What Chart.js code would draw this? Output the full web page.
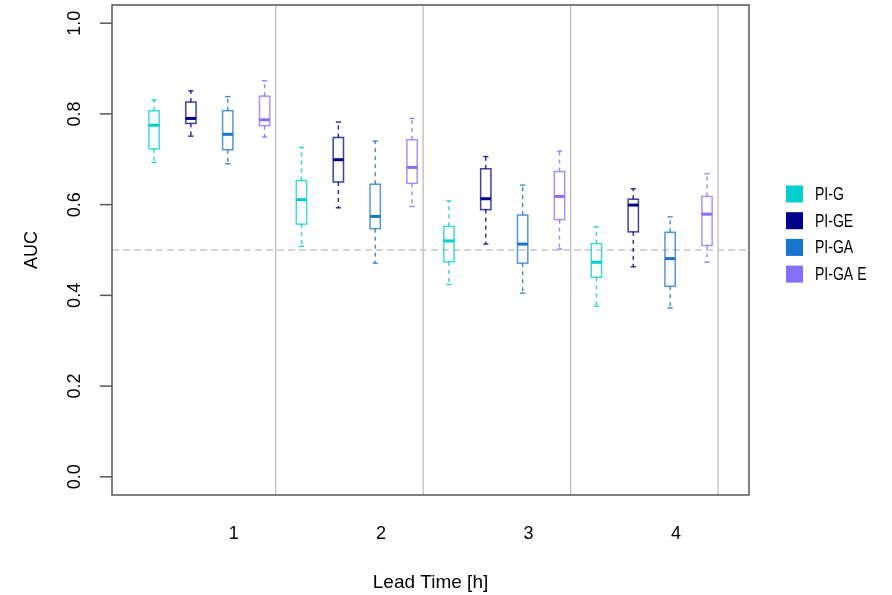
<!DOCTYPE html>
<html>
<head>
<meta charset="utf-8">
<title>AUC by lead time</title>
<script src="https://cdn.jsdelivr.net/npm/chart.js@4.4.1/dist/chart.umd.min.js"></script>
<style>
  html, body { margin: 0; padding: 0; background: #ffffff; }
  #wrap { width: 892px; height: 595px; }
</style>
</head>
<body>
<div id="wrap"><canvas id="aucChart" width="892" height="595"></canvas></div>
<script>
// ============================================
// DATA
// each row: [lower whisker, Q1, median, Q3, upper whisker], one row per lead time
// ============================================

const leadTimes = ['1', '2', '3', '4'];
const seriesLabels = ['PI-G', 'PI-GE', 'PI-GA', 'PI-GA E'];
const seriesColors = ['#00CED1', '#00008B', '#1874CD', '#8470FF'];

const statsPIG = [
  [0.693, 0.723, 0.775, 0.807, 0.831],
  [0.508, 0.557, 0.611, 0.653, 0.726],
  [0.424, 0.474, 0.520, 0.552, 0.608],
  [0.376, 0.440, 0.473, 0.514, 0.551]
];
const statsPIGE = [
  [0.751, 0.779, 0.790, 0.826, 0.851],
  [0.593, 0.650, 0.699, 0.748, 0.782],
  [0.513, 0.589, 0.613, 0.679, 0.706],
  [0.463, 0.540, 0.599, 0.612, 0.635]
];
const statsPIGA = [
  [0.690, 0.721, 0.755, 0.807, 0.838],
  [0.471, 0.547, 0.574, 0.645, 0.740],
  [0.405, 0.471, 0.513, 0.577, 0.643],
  [0.372, 0.420, 0.481, 0.539, 0.573]
];
const statsPIGAE = [
  [0.749, 0.774, 0.787, 0.839, 0.873],
  [0.596, 0.647, 0.682, 0.743, 0.790],
  [0.502, 0.567, 0.618, 0.673, 0.718],
  [0.473, 0.510, 0.579, 0.618, 0.668]
];

const yTicks = [0.0, 0.2, 0.4, 0.6, 0.8, 1.0];
const groupSeparators = [4.3, 8.3, 12.3, 16.3];   // grey vertical lines
const leadLabelAt = [3.16, 7.16, 11.16, 15.16];   // where "1".."4" sit
const refLine = 0.5;                              // chance level

// ============================================
// LOOK
// ============================================

const FONT = '"Liberation Sans", Arial, Helvetica, sans-serif';
const BOX_HALF = 0.14;   // half box width in x units
const CAP_HALF = 0.07;   // half whisker cap width

function withAlpha(hex, a) {
  const n = parseInt(hex.slice(1), 16);
  return `rgba(${(n >> 16) & 255}, ${(n >> 8) & 255}, ${n & 255}, ${a})`;
}

function line(ctx, x1, y1, x2, y2) {
  ctx.beginPath();
  ctx.moveTo(x1, y1);
  ctx.lineTo(x2, y2);
  ctx.stroke();
}

// ============================================
// R-STYLE BOXPLOT PLUGIN
// ============================================

const rBoxplot = {
  id: 'rBoxplot',

  beforeDatasetsDraw(chart) {
    const { ctx, chartArea: a, scales: { x, y } } = chart;
    ctx.save();

    // group separators
    ctx.strokeStyle = '#bebebe';
    ctx.lineWidth = 1.3;
    groupSeparators.forEach(v => {
      const px = x.getPixelForValue(v);
      line(ctx, px, a.top, px, a.bottom);
    });

    // dashed 0.5 line
    ctx.strokeStyle = '#c8c8c8';
    ctx.setLineDash([7, 4]);
    const py = y.getPixelForValue(refLine);
    line(ctx, a.left, py, a.right, py);
    ctx.restore();
  },

  afterDatasetsDraw(chart) {
    const { ctx, chartArea: a, scales: { x, y } } = chart;
    const unit = x.getPixelForValue(1) - x.getPixelForValue(0);

    chart.data.datasets.forEach((ds, di) => {
      const meta = chart.getDatasetMeta(di);
      meta.data.forEach((pt, i) => {
        const [lo, q1, med, q3, hi] = ds.stats[i];
        const cx = pt.x;
        const bw = BOX_HALF * unit;
        const cw = CAP_HALF * unit;
        const yLo = y.getPixelForValue(lo);
        const yQ1 = y.getPixelForValue(q1);
        const yMed = y.getPixelForValue(med);
        const yQ3 = y.getPixelForValue(q3);
        const yHi = y.getPixelForValue(hi);

        ctx.save();
        // whiskers
        ctx.strokeStyle = withAlpha(ds.color, 0.85);
        ctx.lineWidth = 1.4;
        ctx.setLineDash([4, 4]);
        line(ctx, cx, yQ3, cx, yHi);
        line(ctx, cx, yQ1, cx, yLo);
        ctx.setLineDash([]);
        // caps
        line(ctx, cx - cw, yHi, cx + cw, yHi);
        line(ctx, cx - cw, yLo, cx + cw, yLo);
        // box
        ctx.strokeStyle = withAlpha(ds.color, 0.75);
        ctx.lineWidth = 1.5;
        ctx.strokeRect(cx - bw, yQ3, 2 * bw, yQ1 - yQ3);
        // median
        ctx.strokeStyle = ds.color;
        ctx.lineWidth = 3;
        line(ctx, cx - bw, yMed, cx + bw, yMed);
        ctx.restore();
      });
    });

    ctx.save();
    // frame
    ctx.strokeStyle = '#555555';
    ctx.lineWidth = 1.5;
    ctx.strokeRect(a.left, a.top, a.right - a.left, a.bottom - a.top);

    // y ticks and labels
    ctx.fillStyle = '#000000';
    ctx.font = `18px ${FONT}`;
    ctx.textAlign = 'center';
    ctx.textBaseline = 'middle';
    yTicks.forEach(v => {
      const py = y.getPixelForValue(v);
      line(ctx, a.left - 12, py, a.left, py);
      ctx.save();
      ctx.translate(75, py);
      ctx.rotate(-Math.PI / 2);
      ctx.fillText(v.toFixed(1), 0, 0);
      ctx.restore();
    });

    // x labels
    leadTimes.forEach((lab, i) => {
      ctx.fillText(lab, x.getPixelForValue(leadLabelAt[i]), 534);
    });

    // axis titles
    ctx.font = `19px ${FONT}`;
    ctx.fillText('Lead Time [h]', (a.left + a.right) / 2, 583);
    ctx.save();
    ctx.translate(32, (a.top + a.bottom) / 2);
    ctx.rotate(-Math.PI / 2);
    ctx.font = `18px ${FONT}`;
    ctx.fillText('AUC', 0, 0);
    ctx.restore();

    // legend
    ctx.font = `18px ${FONT}`;
    ctx.textAlign = 'left';
    seriesLabels.forEach((lab, i) => {
      const cy = 194 + i * 26.7;
      ctx.fillStyle = seriesColors[i];
      ctx.fillRect(786, cy - 8.5, 17, 17);
      ctx.fillStyle = '#000000';
      ctx.save();
      ctx.translate(815, cy + 1);
      ctx.scale(0.78, 1);
      ctx.fillText(lab, 0, 0);
      ctx.restore();
    });
    ctx.restore();
  }
};

// ============================================
// CHART SETUP
// ============================================

const allStats = [statsPIG, statsPIGE, statsPIGA, statsPIGAE];

function buildDatasets() {
  return seriesLabels.map((label, s) => ({
    label: label,
    color: seriesColors[s],
    stats: allStats[s],
    // box s of lead time i sits at position 4*i + s + 1
    data: allStats[s].map((row, i) => ({ x: i * seriesLabels.length + s + 1, y: row[2] })),
    pointRadius: 0,
    showLine: false
  }));
}

const ctx = document.getElementById('aucChart').getContext('2d');
const aucChart = new Chart(ctx, {
  type: 'scatter',
  data: { datasets: buildDatasets() },
  options: {
    responsive: false,
    animation: false,
    devicePixelRatio: 1,
    layout: { padding: { left: 112, right: 143, top: 5, bottom: 100 } },
    plugins: {
      legend: { display: false },
      tooltip: { enabled: false }
    },
    scales: {
      x: { type: 'linear', min: -0.14, max: 17.14, display: false },
      y: { type: 'linear', min: -0.04, max: 1.04, display: false }
    }
  },
  plugins: [rBoxplot]
});
</script>
</body>
</html>
